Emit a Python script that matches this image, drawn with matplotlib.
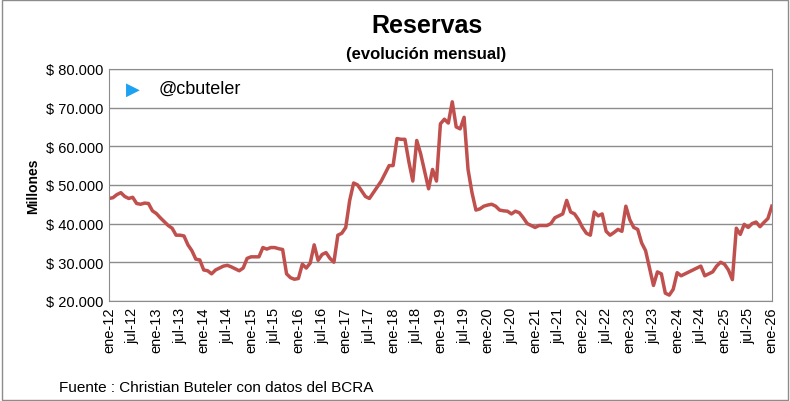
import matplotlib
matplotlib.use('Agg')
import matplotlib.pyplot as plt
import numpy as np

plt.rcParams['font.family'] = ['Liberation Sans', 'DejaVu Sans']

# reservas BCRA, millones USD, mensual ene-12 .. ene-26
y2012 = [46.5, 46.7, 47.5, 48.0, 47.0, 46.5, 46.8, 45.2, 45.0, 45.3, 45.2, 43.3]
y2013 = [42.6, 41.5, 40.5, 39.5, 38.8, 37.0, 37.0, 36.8, 34.5, 33.0, 30.8, 30.6]
y2014 = [28.0, 27.8, 27.0, 28.0, 28.5, 29.0, 29.2, 28.8, 28.3, 27.8, 28.5, 31.0]
y2015 = [31.4, 31.4, 31.4, 33.8, 33.4, 33.8, 33.8, 33.5, 33.3, 27.0, 26.0, 25.6]
y2016 = [25.8, 29.5, 28.5, 29.8, 34.5, 30.5, 32.0, 32.5, 31.0, 30.0, 37.0, 37.5]
y2017 = [39.0, 46.0, 50.5, 50.0, 48.5, 47.0, 46.5, 48.0, 49.5, 51.0, 53.0, 55.0]
y2018 = [55.0, 62.0, 61.8, 61.8, 56.0, 51.0, 61.5, 58.0, 53.5, 49.0, 54.0, 51.0]
y2019 = [65.8, 67.0, 66.0, 71.5, 65.0, 64.5, 67.5, 54.0, 48.0, 43.5, 43.8, 44.5]
y2020 = [44.8, 45.0, 44.5, 43.5, 43.3, 43.2, 42.5, 43.2, 42.8, 41.5, 40.0, 39.5]
y2021 = [39.0, 39.5, 39.5, 39.5, 40.0, 41.5, 42.0, 42.5, 46.0, 43.0, 42.5, 41.0]
y2022 = [39.0, 37.5, 37.0, 43.0, 42.0, 42.5, 38.0, 37.0, 37.7, 38.5, 38.0, 44.5]
y2023 = [41.0, 39.0, 38.5, 35.0, 33.0, 28.5, 24.0, 27.5, 27.0, 22.0, 21.5, 23.0]
y2024 = [27.3, 26.5, 27.0, 27.5, 28.0, 28.5, 29.0, 26.5, 27.0, 27.5, 29.0, 30.0]
y2025 = [29.5, 28.0, 25.5, 38.8, 37.2, 39.8, 39.0, 40.0, 40.4, 39.2, 40.3, 41.3]
y2026 = [44.5]

reservas = np.array(y2012 + y2013 + y2014 + y2015 + y2016 + y2017 + y2018 + y2019
                    + y2020 + y2021 + y2022 + y2023 + y2024 + y2025 + y2026) * 1000

years = list(range(12, 27))
tick_labels = []
for yy in years:
    tick_labels.append('ene-%d' % yy)
    if yy < 26:
        tick_labels.append('jul-%d' % yy)
tick_pos = np.arange(len(tick_labels)) * 6

fig = plt.figure(figsize=(7.9, 4.02), dpi=100)
ax = fig.add_axes([0.138, 0.249, 0.839, 0.577])

ax.plot(np.arange(len(reservas)), reservas, color='#C0504D', linewidth=2.5)

ax.set_xlim(0, len(reservas) - 1)
ax.set_ylim(20000, 80000)
ax.set_yticks(np.arange(20000, 80001, 10000))
ax.set_yticklabels(['$ %s' % format(v, ',').replace(',', '.') for v in range(20000, 80001, 10000)],
                   fontsize=10.5)
ax.set_xticks(tick_pos)
ax.set_xticklabels(tick_labels, rotation=90, fontsize=10.5)
ax.grid(axis='y', color='#8c8c8c', linewidth=1)
ax.set_axisbelow(True)
ax.tick_params(length=0, pad=4)
for s in ax.spines.values():
    s.set_color('#8c8c8c')
ax.set_ylabel('Millones', fontsize=10, fontweight='bold')

fig.text(0.54, 0.935, 'Reservas', ha='center', va='center', fontsize=18, fontweight='bold')
fig.text(0.54, 0.865, '(evolución mensual)', ha='center', va='center', fontsize=12, fontweight='bold')
ax.text(0.025, 0.915, '\u25B6', transform=ax.transAxes, color='#1DA1F2', fontsize=13,
        va='center', family='DejaVu Sans')
ax.text(0.075, 0.915, '@cbuteler', transform=ax.transAxes, fontsize=13, va='center')
fig.text(0.075, 0.035, 'Fuente : Christian Buteler con datos del BCRA', fontsize=11, va='center')

fig.patches.append(plt.Rectangle((0.002, 0.003), 0.996, 0.994, transform=fig.transFigure,
                                 fill=False, edgecolor='#8c8c8c', linewidth=1))

fig.savefig('out.png', dpi=100)
